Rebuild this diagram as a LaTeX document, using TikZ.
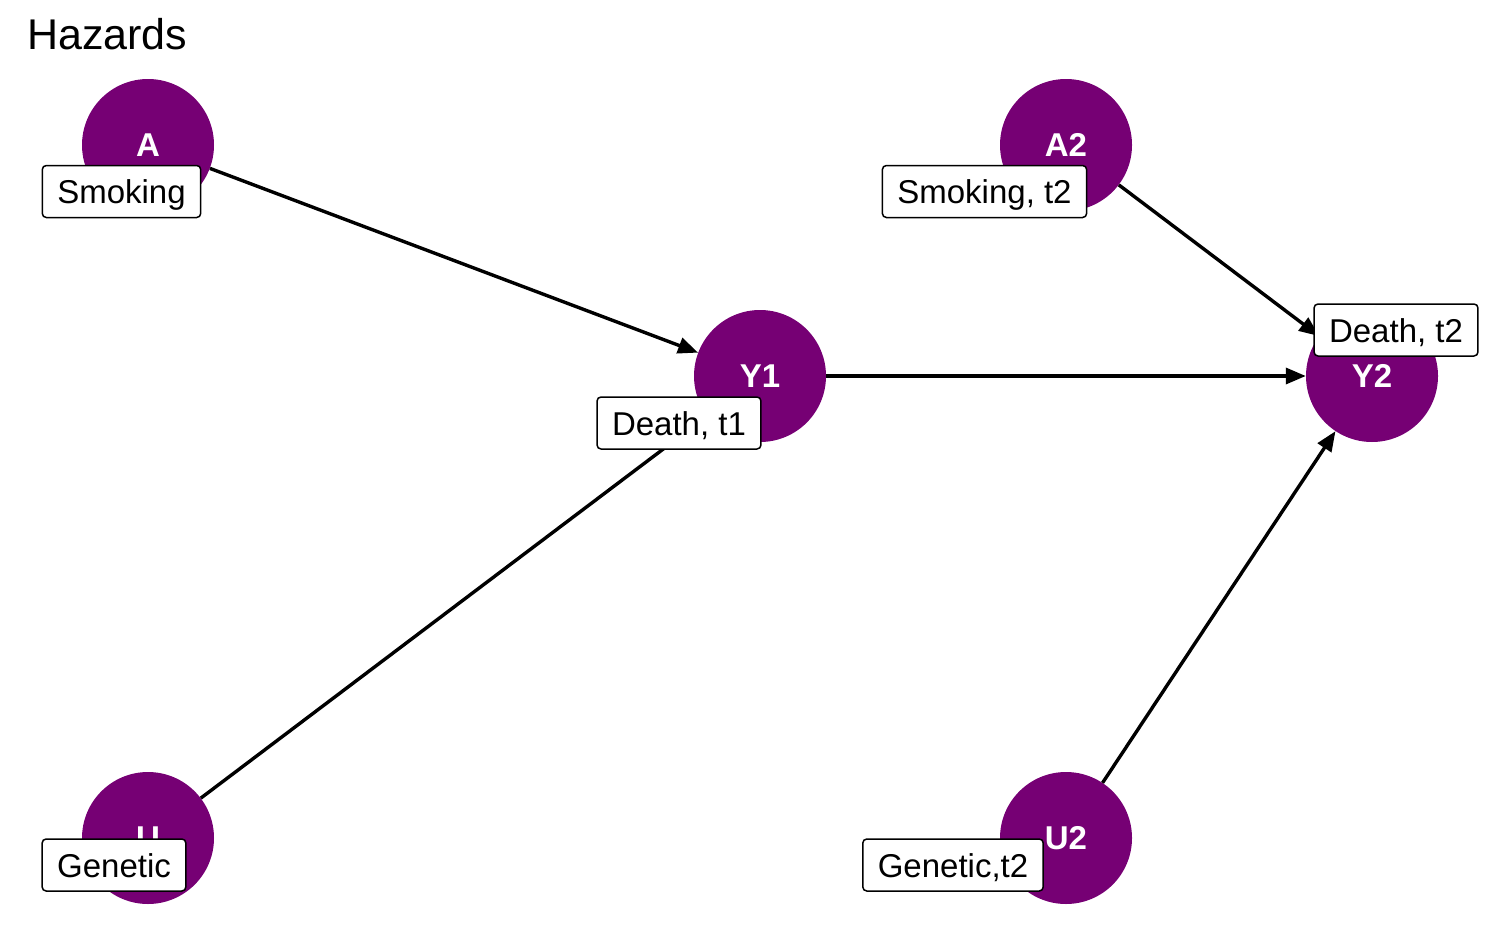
\documentclass[tikz,border=0pt]{standalone}
\usepackage{fontspec}
\setmainfont{Liberation Sans}
\usetikzlibrary{arrows.meta}
\definecolor{dagpurple}{RGB}{118,0,116}
\tikzset{
  dagnode/.style={circle, fill=dagpurple, minimum size=132pt, inner sep=0pt,
    text=white, font=\fontsize{33}{38}\selectfont\bfseries},
  dagedge/.style={line width=3.4pt, -{Triangle[length=20pt,width=16pt]}},
  lab/.style={draw=black, line width=1.5pt, rounded corners=4pt, fill=white,
    font=\fontsize{33}{40}\selectfont, inner xsep=15pt, inner ysep=0pt,
    minimum height=52pt, text height=24pt, text depth=0pt},
}
\begin{document}
\begin{tikzpicture}[x=1pt,y=1pt]
\useasboundingbox (0,0) rectangle (1512,-934);
% title
\node[anchor=base west, inner sep=0pt, font=\fontsize{43}{48}\selectfont] (title) at (27,-49) {Hazards};
% nodes
\node[dagnode] (A)  at (148,-145) {A};
\node[dagnode] (A2) at (1066,-145) {A2};
\node[dagnode] (Y1) at (760,-376) {Y1};
\node[dagnode] (Y2) at (1372,-376) {Y2};
\node[dagnode] (U)  at (148,-838) {U};
\node[dagnode] (U2) at (1066,-838) {U2};
% edges
\draw[dagedge] (A) -- (Y1);
\draw[dagedge] (U) -- (Y1);
\draw[dagedge] (Y1) -- (Y2);
\draw[dagedge] (A2) -- (Y2);
\draw[dagedge] (U2) -- (Y2);
% labels
\node[lab] (lA)  at (121.5,-191.5) {Smoking};
\node[lab] (lA2) at (984.5,-191.5) {Smoking, t2};
\node[lab] (lY1) at (679,-423) {Death, t1};
\node[lab] (lY2) at (1396,-330) {Death, t2};
\node[lab] (lU)  at (114,-865) {Genetic};
\node[lab] (lU2) at (953,-865) {Genetic,t2};
\end{tikzpicture}
\end{document}
